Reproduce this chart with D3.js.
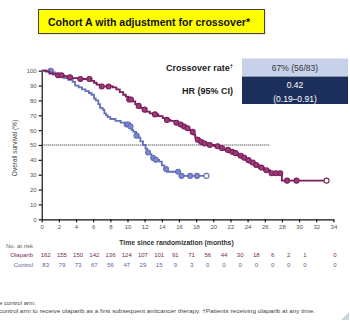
<!DOCTYPE html>
<html><head><meta charset="utf-8">
<script src="https://cdn.jsdelivr.net/npm/d3@7"></script>
<style>html,body{margin:0;padding:0;background:#fff;}svg{display:block;}</style>
</head><body>
<svg id="c" width="350" height="324"></svg>
<script>
const xTicks = [0,2,4,6,8,10,12,14,16,18,20,22,24,26,28,30,32,34];
const yTicks = [0,10,20,30,40,50,60,70,80,90,100];

const ctrlTimes = [0,1.3,1.6,2.0,2.6,3.1,3.6,3.9,4.3,4.7,5.1,5.5,5.8,6.1,6.3,6.6,6.8,7.1,7.3,7.5,7.7,8.0,8.6,9.2,9.8,10.2,10.5,10.7,11.0,11.3,11.5,11.8,12.1,12.3,12.5,12.8,13.2,13.7,14.0,14.3,14.6,16.1];
const ctrlSurv  = [100,98.8,97.5,96.3,95,93.8,92.5,90,88.8,87.5,86.3,85,83.8,81.3,80,77.5,75,73.8,71.3,70,68.8,67.5,66.3,65,63.8,62.5,60,58.8,56.3,55,52.5,50,47.5,45,43.8,41.3,40,38.8,36.3,33.8,32,29.2];
const ctrlCensor = [1.05,9.9,10.1,10.35,11.05,12.4,13.0,13.3,14.5,15.9,16.3,17.3,18.1,19.2];

const olapTimes = [0,0.5,0.9,1.3,1.7,2.6,3.0,3.5,4.3,5.8,6.1,6.4,6.8,8.3,8.7,9.1,9.5,9.8,10.1,10.6,10.9,11.2,11.5,11.8,12.1,12.6,13.2,13.6,14.1,14.6,15.0,15.5,15.9,16.3,16.7,17.1,17.5,17.7,17.9,18.1,18.5,18.9,19.4,20.1,20.6,21.2,21.8,22.4,22.9,23.3,23.8,24.2,24.8,25.3,25.9,26.6,28.0];
const olapSurv  = [100,99.4,98.1,97.5,96.9,96.3,95.6,95,94.4,93.1,91.9,90.6,89.4,88.8,87.5,85.6,83.8,82.5,80.6,79.4,77.5,76.3,75,73.8,72.5,71.3,70.6,69.4,68.1,66.9,66.3,65,63.8,62.5,61.3,60,58.8,57,55,53.5,52,51,50,49.2,48,46.7,45.4,44.5,42.8,41.5,39.8,38.2,36.5,34.8,33,31,26];
const olapCensor = [1.9,2.3,3.3,4.5,5.55,7.0,7.8,10.2,10.4,11.3,12.0,13.2,14.6,15.7,16.2,16.6,17.0,17.6,18.2,18.6,19.0,19.6,20.5,21.0,21.7,22.2,22.6,23.2,23.6,24.1,24.6,25.0,25.6,26.2,26.8,27.3,27.8,28.6,29.7,33.2];

const atRiskMonths = [0,2,4,6,8,10,12,14,16,18,20,22,24,26,28,30,32,34];
const atRiskOlaparib = [162,155,150,142,136,124,107,101,91,71,56,44,30,18,6,2,1,0];
const atRiskControl = [83,79,73,67,56,47,29,15,9,3,0,0,0,0,0,0,0,0];

const purple = "#7a1d5a", blue = "#6470b8";
const svg = d3.select("#c");
const font = "Liberation Sans, Arial, sans-serif";

// title box
svg.append("rect").attr("x",39.5).attr("y",10.5).attr("width",226).attr("height",24)
  .attr("fill","#aaa").attr("opacity",0.5);
svg.append("rect").attr("x",38.5).attr("y",9.5).attr("width",226).attr("height",24)
  .attr("fill","#ffff00").attr("stroke","#444").attr("stroke-width",1);
svg.append("text").attr("x",48).attr("y",25.5).attr("font-family",font).attr("font-weight","bold")
  .attr("font-size",10.5).attr("fill","#111").attr("textLength",202).attr("lengthAdjust","spacingAndGlyphs")
  .text("Cohort A with adjustment for crossover*");

// table
svg.append("rect").attr("x",242).attr("y",58.5).attr("width",106).attr("height",17.5).attr("fill","#c7d2ea");
svg.append("rect").attr("x",242).attr("y",76.5).attr("width",106).attr("height",27.5).attr("fill","#1c2f5c");
const cr = svg.append("text").attr("x",233).attr("y",71).attr("text-anchor","end").attr("font-family",font)
  .attr("font-weight","bold").attr("font-size",9).attr("fill","#222");
cr.append("tspan").text("Crossover rate");
cr.append("tspan").attr("font-size",6).attr("dy",-3).text("†");
svg.append("text").attr("x",233).attr("y",93.5).attr("text-anchor","end").attr("font-family",font)
  .attr("font-weight","bold").attr("font-size",9).attr("fill","#222").text("HR (95% CI)");
svg.append("text").attr("x",295).attr("y",71).attr("text-anchor","middle").attr("font-family",font)
  .attr("font-size",8.5).attr("fill","#333").text("67% (56/83)");
svg.append("text").attr("x",295).attr("y",87.5).attr("text-anchor","middle").attr("font-family",font)
  .attr("font-size",8.5).attr("fill","#fff").text("0.42");
svg.append("text").attr("x",295).attr("y",101.5).attr("text-anchor","middle").attr("font-family",font)
  .attr("font-size",8.5).attr("fill","#fff").text("(0.19–0.91)");

// scales
const x = d3.scaleLinear().domain([0,34]).range([41.7,333.4]);
const y = d3.scaleLinear().domain([0,100]).range([219.3,70.7]);

// axes
const gx = svg.append("g").attr("transform",`translate(0,${y(0)})`)
  .call(d3.axisBottom(x).tickValues(xTicks).tickSize(3).tickSizeOuter(0));
const gy = svg.append("g").attr("transform",`translate(${x(0)},0)`)
  .call(d3.axisLeft(y).tickValues(yTicks).tickSize(3).tickSizeOuter(0));
[gx,gy].forEach(g=>{
  g.select(".domain").attr("stroke","#111").attr("stroke-width",1.2);
  g.selectAll(".tick line").attr("stroke","#111").attr("stroke-width",1.2);
  g.selectAll("text").attr("font-family",font).attr("font-size",6).attr("fill","#555");
});
gx.selectAll("text").attr("dy","0.9em").attr("y",4);
gy.selectAll("text").attr("x",-5);

svg.append("text").attr("transform",`translate(17,${(y(0)+y(100))/2+3}) rotate(-90)`)
  .attr("text-anchor","middle").attr("font-family",font).attr("font-size",6.5).attr("fill","#444")
  .text("Overall survival (%)");
svg.append("text").attr("x",176.5).attr("y",244.5).attr("text-anchor","middle").attr("font-family",font)
  .attr("font-size",6.8).attr("font-weight","bold").attr("fill","#333").text("Time since randomization (months)");

// 50% reference line
svg.append("line").attr("x1",x(0)).attr("x2",x(26.6)).attr("y1",y(50)).attr("y2",y(50))
  .attr("stroke","#222").attr("stroke-width",1).attr("stroke-dasharray","1,1");

function stepVal(times, surv, t){
  let v = surv[0];
  for(let i=0;i<times.length;i++){ if(times[i]<=t) v=surv[i]; }
  return v;
}
function drawSeries(times, surv, censor, color, fill){
  const pts = times.map((t,i)=>[t,surv[i]]);
  const tEnd = d3.max(censor);
  pts.push([tEnd, stepVal(times,surv,tEnd)]);
  const line = d3.line().x(d=>x(d[0])).y(d=>y(d[1])).curve(d3.curveStepAfter);
  svg.append("path").datum(pts).attr("d",line).attr("fill","none").attr("stroke",color).attr("stroke-width",1.8);
  svg.append("g").selectAll("circle").data(censor).join("circle")
    .attr("cx",d=>x(d)).attr("cy",d=>y(stepVal(times,surv,d)))
    .attr("r",2.5).attr("fill",(d,i)=> i===censor.length-1 ? "#fff" : fill)
    .attr("stroke",color).attr("stroke-width",1.1);
}
drawSeries(ctrlTimes, ctrlSurv, ctrlCensor, blue, "#7d88cc");
drawSeries(olapTimes, olapSurv, olapCensor, purple, "#9a3c78");

// at risk table
const xr = d3.scaleLinear().domain([0,32]).range([45.7,305]);
const xrPos = m => m===34 ? 335 : xr(m);
svg.append("text").attr("x",6).attr("y",248).attr("font-family",font).attr("font-size",6).attr("fill","#666").text("No. at risk");
svg.append("text").attr("x",33).attr("y",256.5).attr("text-anchor","end").attr("font-family",font).attr("font-size",6).attr("fill",purple).text("Olaparib");
svg.append("text").attr("x",33).attr("y",266.5).attr("text-anchor","end").attr("font-family",font).attr("font-size",6).attr("fill","#5a62a0").text("Control");
svg.append("g").selectAll("text").data(atRiskOlaparib).join("text")
  .attr("x",(d,i)=>xrPos(atRiskMonths[i])).attr("y",256.5).attr("text-anchor","middle")
  .attr("font-family",font).attr("font-size",6).attr("fill",purple).text(d=>d);
svg.append("g").selectAll("text").data(atRiskControl).join("text")
  .attr("x",(d,i)=>xrPos(atRiskMonths[i])).attr("y",266.5).attr("text-anchor","middle")
  .attr("font-family",font).attr("font-size",6).attr("fill","#5a62a0").text(d=>d);

// footnotes
svg.append("text").attr("x",-1).attr("y",304.5).attr("font-family",font).attr("font-size",6).attr("fill","#444").text("e control arm.");
svg.append("text").attr("x",-1).attr("y",312.5).attr("font-family",font).attr("font-size",6).attr("fill","#444")
  .attr("textLength",316).attr("lengthAdjust","spacingAndGlyphs")
  .text("control arm to receive olaparib as a first subsequent anticancer therapy. †Patients receiving olaparib at any time.");

// corner mark
svg.append("path").attr("d","M349,312 L349,320 L341,320 Z").attr("fill","#c8d8e0");
</script>
</body></html>
